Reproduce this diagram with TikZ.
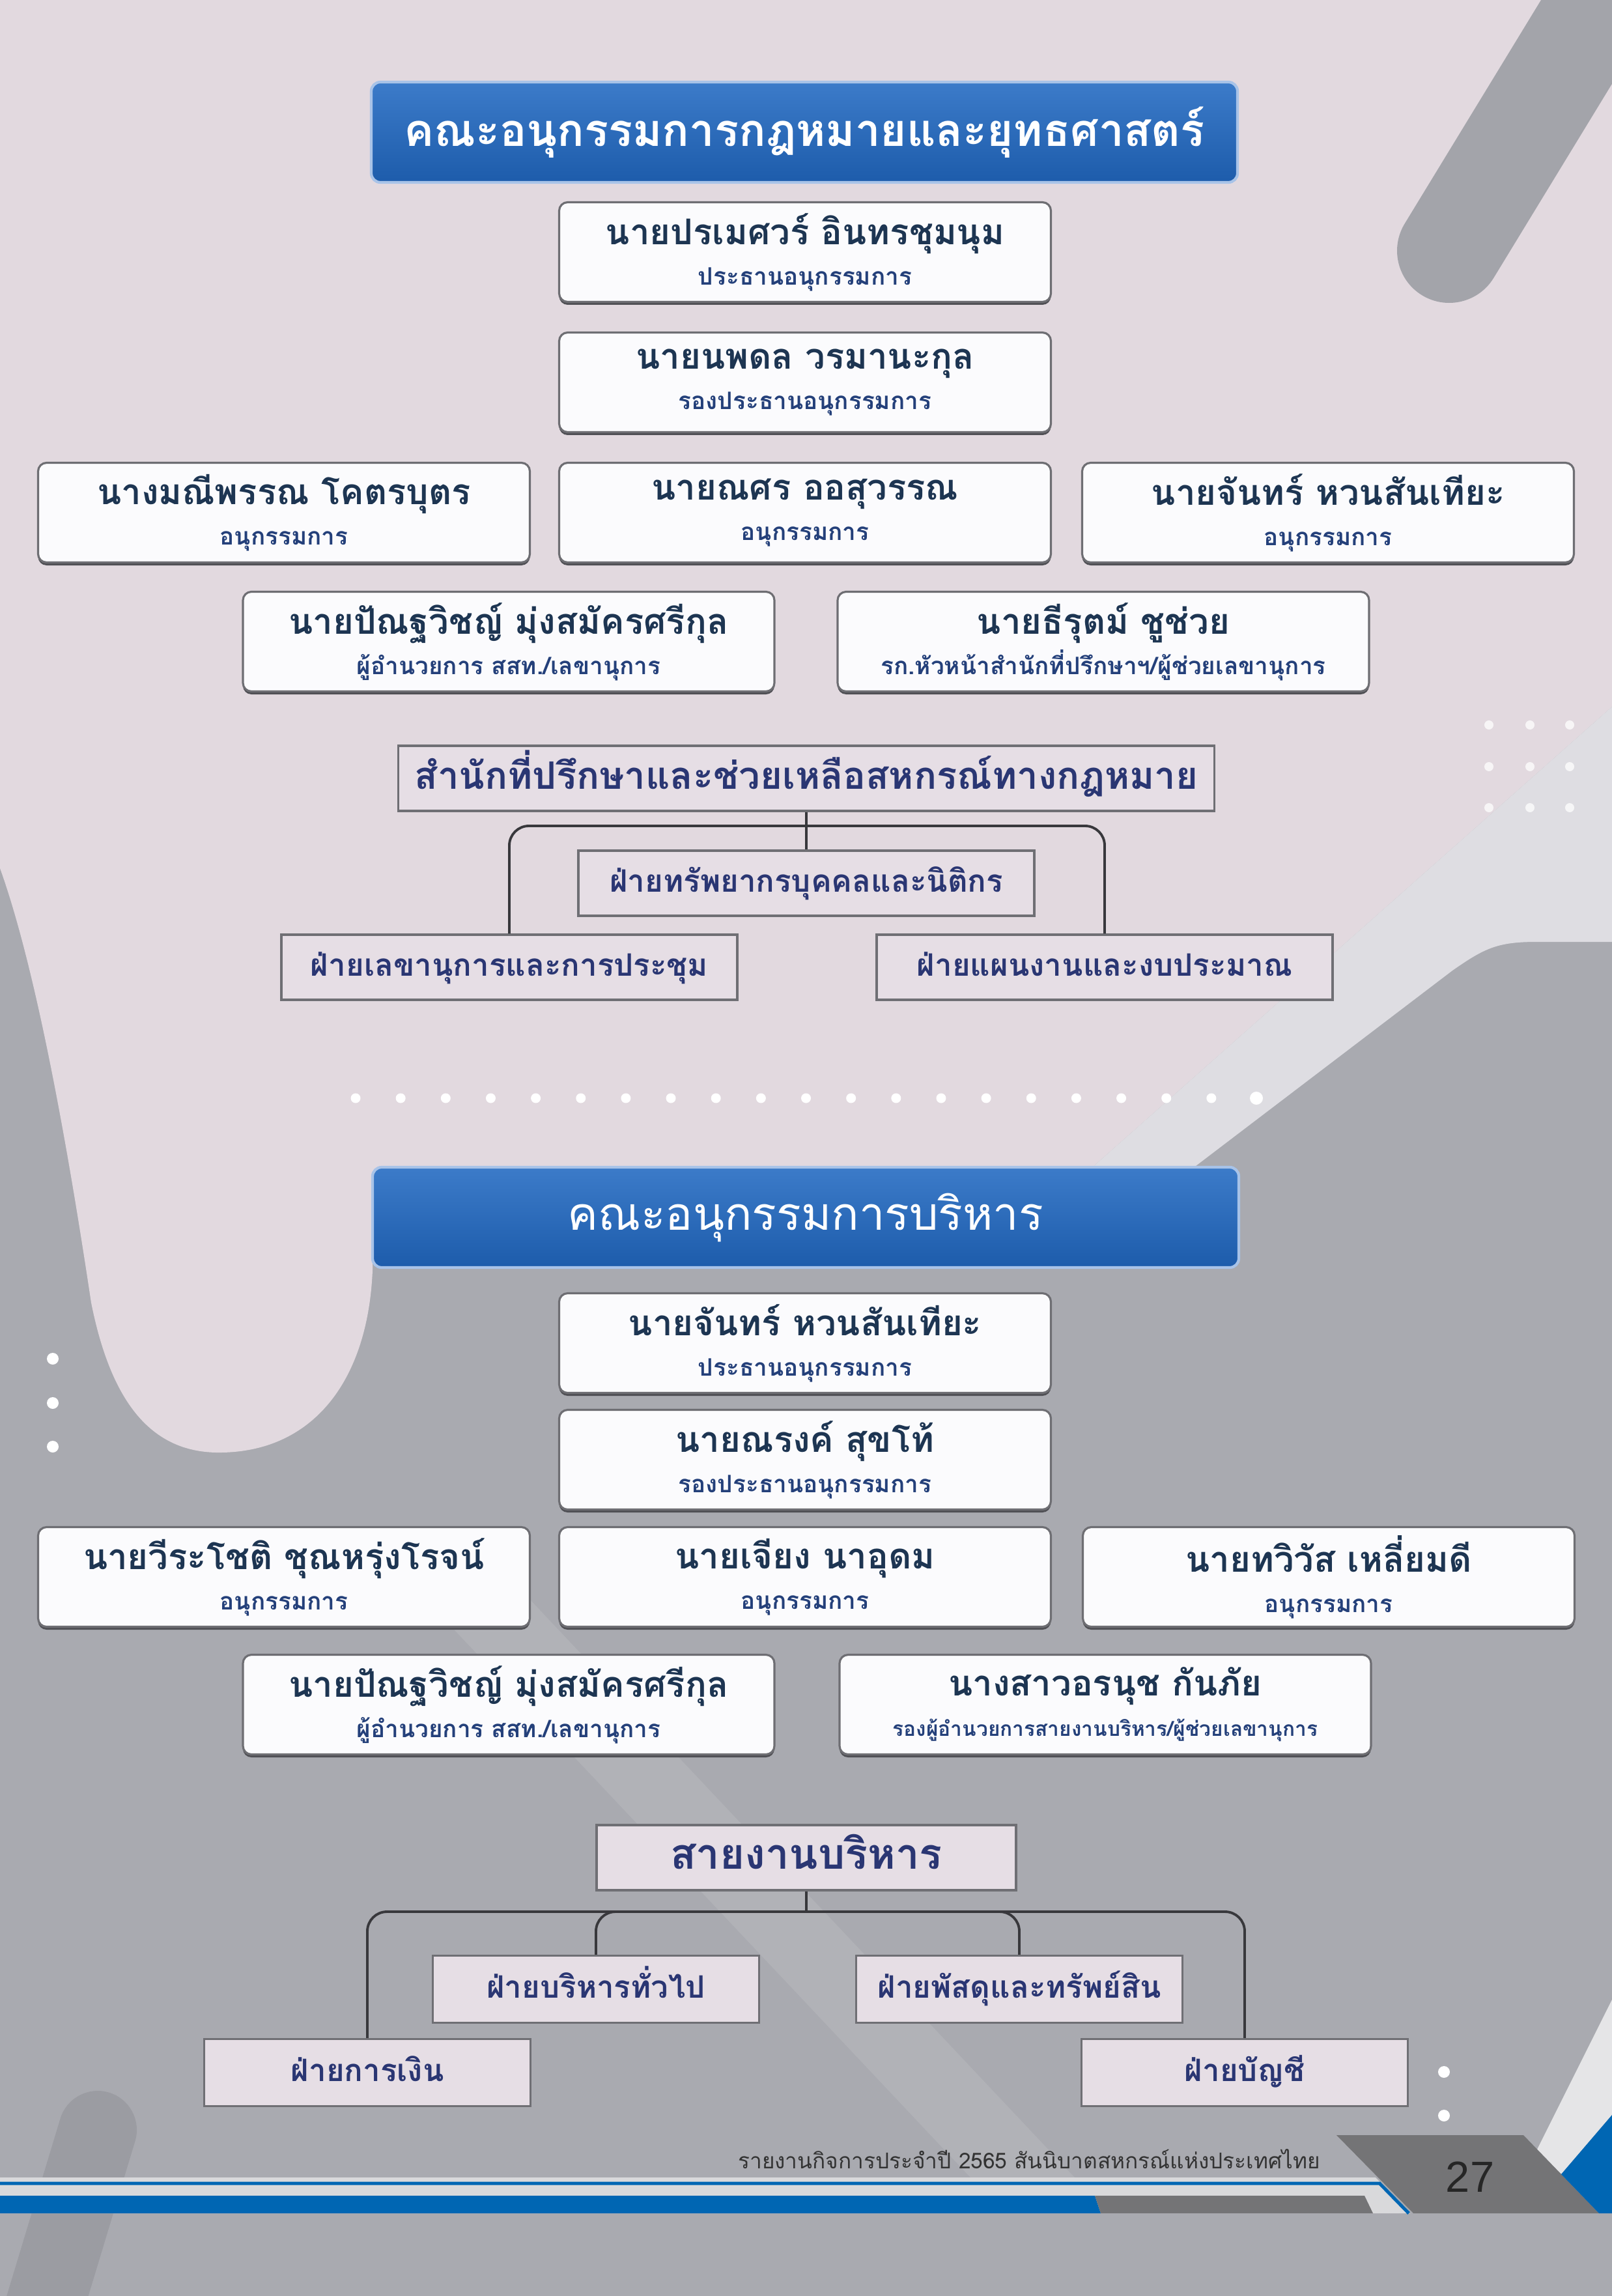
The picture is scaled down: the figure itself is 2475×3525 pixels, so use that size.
\documentclass[tikz,border=0pt]{standalone}
\usepackage{fontspec}
\newfontfamily\thaifont[Script=Thai]{Loma}
\newfontfamily\numfont{Liberation Sans}
\usetikzlibrary{shadows}

\definecolor{pinkbg}{HTML}{E2D9DF}
\definecolor{graybg}{HTML}{A9AAB0}
\definecolor{graylight}{HTML}{B1B2B7}
\definecolor{capsulecol}{HTML}{A3A4AA}
\definecolor{bandcol}{HTML}{DEDDE2}
\definecolor{darkcap}{HTML}{9B9CA2}
\definecolor{titletop}{HTML}{3C7BC9}
\definecolor{titlebot}{HTML}{1D5CAB}
\definecolor{titleedge}{HTML}{A8C3E8}
\definecolor{boxfill}{HTML}{FBFBFD}
\definecolor{boxedge}{HTML}{6E6E73}
\definecolor{shadowcol}{HTML}{505055}
\definecolor{namecol}{HTML}{1D3552}
\definecolor{postcol}{HTML}{24407A}
\definecolor{subfill}{HTML}{E6DEE5}
\definecolor{subedge}{HTML}{6F6F74}
\definecolor{subtext}{HTML}{2A3673}
\definecolor{linecol}{HTML}{38383C}
\definecolor{footblue}{HTML}{0066B3}
\definecolor{footlight}{HTML}{D9D9DB}
\definecolor{footdark}{HTML}{747476}

\newcommand{\headfont}{\thaifont\fontsize{20}{24}\selectfont}
\newcommand{\personfont}{\thaifont\bfseries\fontsize{15.5}{17.6}\selectfont}
\newcommand{\postfont}{\color{postcol}\thaifont\bfseries\fontsize{10.5}{17.6}\selectfont}
\newcommand{\smallpostfont}{\color{postcol}\thaifont\bfseries\fontsize{9}{17.6}\selectfont}
\newcommand{\unitfont}{\thaifont\bfseries\fontsize{16.5}{20}\selectfont}
\newcommand{\deptfont}{\thaifont\bfseries\fontsize{13.5}{16}\selectfont}
\newcommand{\linefont}{\thaifont\bfseries\fontsize{18.5}{22}\selectfont}
\newcommand{\footfont}{\thaifont\fontsize{9.5}{11}\selectfont}

\begin{document}
\begin{tikzpicture}[x=0.1mm, y=-0.1mm,
    titlebox/.style={rectangle, rounded corners=1.4mm, top color=titletop, bottom color=titlebot,
        draw=titleedge, line width=1.2pt, text=white, minimum width=133mm, minimum height=15.4mm, inner sep=0pt},
    namebox/.style={rectangle, rounded corners=1.3mm, fill=boxfill, draw=boxedge, line width=0.9pt,
        drop shadow={shadow xshift=0mm, shadow yshift=-0.45mm, fill=shadowcol, opacity=1},
        minimum width=75.5mm, minimum height=15.3mm, inner sep=0pt, align=center, text=namecol, font=\personfont},
    widebox/.style={namebox, minimum width=81.6mm},
    subbox/.style={rectangle, fill=subfill, draw=subedge, line width=1pt, text=subtext,
        minimum width=70mm, minimum height=10mm, inner sep=0pt, text height=2.6mm, text depth=0mm, font=\deptfont},
    smallsub/.style={subbox, minimum width=50.1mm, minimum height=10.3mm},
    conn/.style={draw=linecol, line width=1.1pt},
    elbow/.style={conn, rounded corners=3mm}]

    \useasboundingbox (0,0) rectangle (2475,3525);

    \begin{scope}
        \clip (0,0) rectangle (2475,3525);
        \fill[graybg] (0,0) rectangle (2475,3525);
        \fill[pinkbg] (0,0) -- (2475,0) -- (2475,1085) -- (1640,1825) -- (575,1825) -- (572,1950)
            .. controls (565,2120) and (480,2232) .. (332,2230)
            .. controls (230,2228) and (170,2150) .. (140,2000)
            .. controls (110,1800) and (60,1500) .. (0,1333) -- cycle;
        \fill[bandcol] (2475,1085) -- (1640,1825) -- (1790,1825) -- (2230,1490)
            .. controls (2280,1455) and (2300,1446) .. (2360,1446) -- (2475,1446) -- cycle;
        \fill[graylight] (620,2420) -- (780,2420) -- (1650,3343) -- (1490,3343) -- cycle;
        \draw[capsulecol, line width=16mm, line cap=round] (2225,385) -- (2600,-230);
        \draw[darkcap, line width=12mm, line cap=round] (150,3270) -- (20,3700);
        \fill[white, opacity=0.7] (2475,3070) -- (2475,3247) -- (2397,3338) -- (2360,3300) -- cycle;

        \foreach \x in {0,...,20}
            \fill[white] (546+69.15*\x,1686) circle (0.75mm);
        \fill[white] (1929,1686) circle (1mm);
        \foreach \x in {2286,2349,2410}
            \foreach \y in {1113,1177,1240}
                \fill[white, opacity=0.75] (\x,\y) circle (0.7mm);
        \foreach \y in {2086,2154,2221}
            \fill[white] (81,\y) circle (0.9mm);
        \fill[white] (2217,3181) circle (0.9mm);
        \fill[white] (2217,3248) circle (0.9mm);

        \fill[footlight] (0,3343) -- (2112,3343) -- (2165,3398) -- (0,3398) -- cycle;
        \draw[footblue, line width=0.5mm] (0,3352) -- (2118,3352) -- (2163,3398);
        \fill[footblue] (0,3371) -- (1681,3371) -- (1690,3398) -- (0,3398) -- cycle;
        \fill[footdark] (1681,3371) -- (2095,3371) -- (2108,3398) -- (1690,3398) -- cycle;
        \fill[footdark] (2052,3278) -- (2339,3278) -- (2455,3398) -- (2170,3398) -- cycle;
        \fill[footblue] (2475,3247) -- (2397,3338) -- (2455,3398) -- (2475,3398) -- cycle;
    \end{scope}

    \node[titlebox, font=\headfont\bfseries\fontsize{19.6}{24}\selectfont] (legal) at (1235,203) {คณะอนุกรรมการกฎหมายและยุทธศาสตร์};
    \node[namebox] (lchair) at (1236,387) {นายปรเมศวร์ อินทรชุมนุม\\{\postfont ประธานอนุกรรมการ}};
    \node[namebox] (lvice) at (1236,587) {นายนพดล วรมานะกุล\\{\postfont รองประธานอนุกรรมการ}};
    \node[namebox] (lmemone) at (436,787) {นางมณีพรรณ โคตรบุตร\\{\postfont อนุกรรมการ}};
    \node[namebox] (lmemtwo) at (1236,787) {นายณศร ออสุวรรณ\\{\postfont อนุกรรมการ}};
    \node[namebox] (lmemthree) at (2039,787) {นายจันทร์ หวนสันเทียะ\\{\postfont อนุกรรมการ}};
    \node[widebox] (lsec) at (781,985) {นายปัณฐวิชญ์ มุ่งสมัครศรีกุล\\{\postfont ผู้อำนวยการ สสท./เลขานุการ}};
    \node[widebox] (lasst) at (1694,985) {นายธีรุตม์ ชูช่วย\\{\postfont รก.หัวหน้าสำนักที่ปรึกษาฯ/ผู้ช่วยเลขานุการ}};

    \node[subbox, minimum width=125.3mm, text height=3.2mm, font=\unitfont] (office) at (1238,1195) {สำนักที่ปรึกษาและช่วยเหลือสหกรณ์ทางกฎหมาย};
    \node[subbox] (hr) at (1238,1356) {ฝ่ายทรัพยากรบุคคลและนิติกร};
    \node[subbox] (meet) at (782,1485) {ฝ่ายเลขานุการและการประชุม};
    \node[subbox] (plan) at (1696,1485) {ฝ่ายแผนงานและงบประมาณ};
    \coordinate (hubone) at (1238,1268);
    \draw[conn] (office.south) -- (hr.north);
    \draw[elbow] (hubone) -| (meet.north);
    \draw[elbow] (hubone) -| (plan.north);

    \node[titlebox, font=\headfont] (exec) at (1237,1869) {คณะอนุกรรมการบริหาร};
    \node[namebox] (echair) at (1236,2062) {นายจันทร์ หวนสันเทียะ\\{\postfont ประธานอนุกรรมการ}};
    \node[namebox] (evice) at (1236,2241) {นายณรงค์ สุขโท้\\{\postfont รองประธานอนุกรรมการ}};
    \node[namebox] (ememone) at (436,2421) {นายวีระโชติ ชุณหรุ่งโรจน์\\{\postfont อนุกรรมการ}};
    \node[namebox] (ememtwo) at (1236,2421) {นายเจียง นาอุดม\\{\postfont อนุกรรมการ}};
    \node[namebox] (ememthree) at (2040,2421) {นายทวิวัส เหลี่ยมดี\\{\postfont อนุกรรมการ}};
    \node[widebox] (esec) at (781,2617) {นายปัณฐวิชญ์ มุ่งสมัครศรีกุล\\{\postfont ผู้อำนวยการ สสท./เลขานุการ}};
    \node[widebox] (easst) at (1697,2617) {นางสาวอรนุช กันภัย\\{\smallpostfont รองผู้อำนวยการสายงานบริหาร/ผู้ช่วยเลขานุการ}};

    \node[subbox, minimum width=64.4mm, text height=3.5mm, font=\linefont] (admin) at (1238,2852) {สายงานบริหาร};
    \node[smallsub] (general) at (915,3054) {ฝ่ายบริหารทั่วไป};
    \node[smallsub] (supply) at (1565,3054) {ฝ่ายพัสดุและทรัพย์สิน};
    \node[smallsub] (finance) at (564,3182) {ฝ่ายการเงิน};
    \node[smallsub] (account) at (1911,3182) {ฝ่ายบัญชี};
    \coordinate (hubtwo) at (1238,2935);
    \draw[conn] (admin.south) -- (hubtwo);
    \draw[elbow] (hubtwo) -| (finance.north);
    \draw[elbow] (hubtwo) -| (general.north);
    \draw[elbow] (hubtwo) -| (supply.north);
    \draw[elbow] (hubtwo) -| (account.north);

    \node[anchor=east, text=black!80, font=\footfont] (report) at (2039,3315) {รายงานกิจการประจำปี 2565 สันนิบาตสหกรณ์แห่งประเทศไทย};
    \node[text=black!85, font=\numfont\fontsize{19}{22}\selectfont] (page) at (2257,3342) {27};
\end{tikzpicture}
\end{document}
